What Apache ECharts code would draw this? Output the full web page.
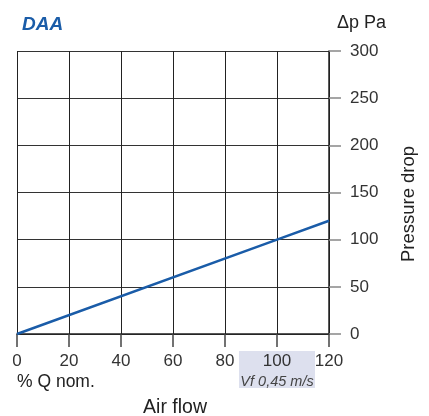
<!DOCTYPE html>
<html><head><meta charset="utf-8">
<script src="https://cdn.jsdelivr.net/npm/echarts@6/dist/echarts.min.js"></script>
<style>html,body{margin:0;padding:0;background:#fff}#c{width:429px;height:416px}</style>
</head><body><div id="c"></div>
<script>
const airFlow = [0, 100, 120];
const pressureDrop = [0, 100, 120];
const xTicks = [0, 20, 40, 60, 80, 100, 120];
const yTicks = [0, 50, 100, 150, 200, 250, 300];
const FONT = '"Liberation Sans", Arial, Helvetica, sans-serif';

const chart = echarts.init(document.getElementById('c'), null, {renderer: 'canvas'});
const option = {
  animation: false,
  title: {text: 'DAA', left: 17, top: 10, textStyle: {fontFamily: FONT, fontSize: 19, fontStyle: 'italic', fontWeight: 'bold', color: '#1a5ca8'}},
  grid: {left: 17, right: 100, top: 51, bottom: 82},
  xAxis: {
    type: 'value', min: 0, max: 120, interval: 20, position: 'bottom',
    axisLine: {show: true, onZero: false, lineStyle: {color: '#222', width: 1.5}},
    axisTick: {show: true, inside: false, length: 13, lineStyle: {color: '#444', width: 1.5}},
    axisLabel: {fontFamily: FONT, fontSize: 17, color: '#333', margin: 19},
    splitLine: {show: true, lineStyle: {color: '#222', width: 1}}
  },
  yAxis: {
    type: 'value', position: 'right', min: 0, max: 300, interval: 50,
    axisLine: {show: true, onZero: false, lineStyle: {color: '#222', width: 1.5}},
    axisTick: {show: true, inside: false, length: 12, lineStyle: {color: '#888', width: 1.5}},
    axisLabel: {fontFamily: FONT, fontSize: 17, color: '#333', margin: 21, padding: [0, 0, 11, 0]},
    splitLine: {show: true, lineStyle: {color: '#333', width: 1}}
  },
  series: [{
    type: 'line', data: airFlow.map((x, i) => [x, pressureDrop[i]]),
    showSymbol: false, lineStyle: {color: '#1a5ca8', width: 2.5}, z: 5
  }]
};
chart.setOption(option);
const p100 = chart.convertToPixel({gridIndex: 0}, [100, 0]);
const pc = chart.convertToPixel({gridIndex: 0}, [60, 0]);
chart.setOption({
  graphic: [
    {type: 'rect', shape: {x: p100[0] - 38, y: 351, width: 76, height: 37}, style: {fill: '#dde0ee'}, z: -1},
    {type: 'text', z: 10, style: {x: p100[0], y: 382, text: 'Vf 0,45 m/s', textAlign: 'center', textVerticalAlign: 'middle', fontFamily: FONT, fontSize: 14.5, fontStyle: 'italic', fill: '#444'}},
    {type: 'text', style: {x: 17, y: 382, text: '% Q nom.', textVerticalAlign: 'middle', fontFamily: FONT, fontSize: 17.5, fill: '#222'}},
    {type: 'text', style: {x: pc[0] + 2, y: 408, text: 'Air flow', textAlign: 'center', textVerticalAlign: 'middle', fontFamily: FONT, fontSize: 19.5, fill: '#222'}},
    {type: 'text', style: {x: 337, y: 23, text: '\u0394p Pa', textVerticalAlign: 'middle', fontFamily: FONT, fontSize: 18, fill: '#222'}},
    {type: 'text', x: 409, y: 204, rotation: Math.PI / 2, style: {x: 0, y: 0, text: 'Pressure drop', textAlign: 'center', textVerticalAlign: 'middle', fontFamily: FONT, fontSize: 18.5, fill: '#222'}}
  ]
});
</script></body></html>
